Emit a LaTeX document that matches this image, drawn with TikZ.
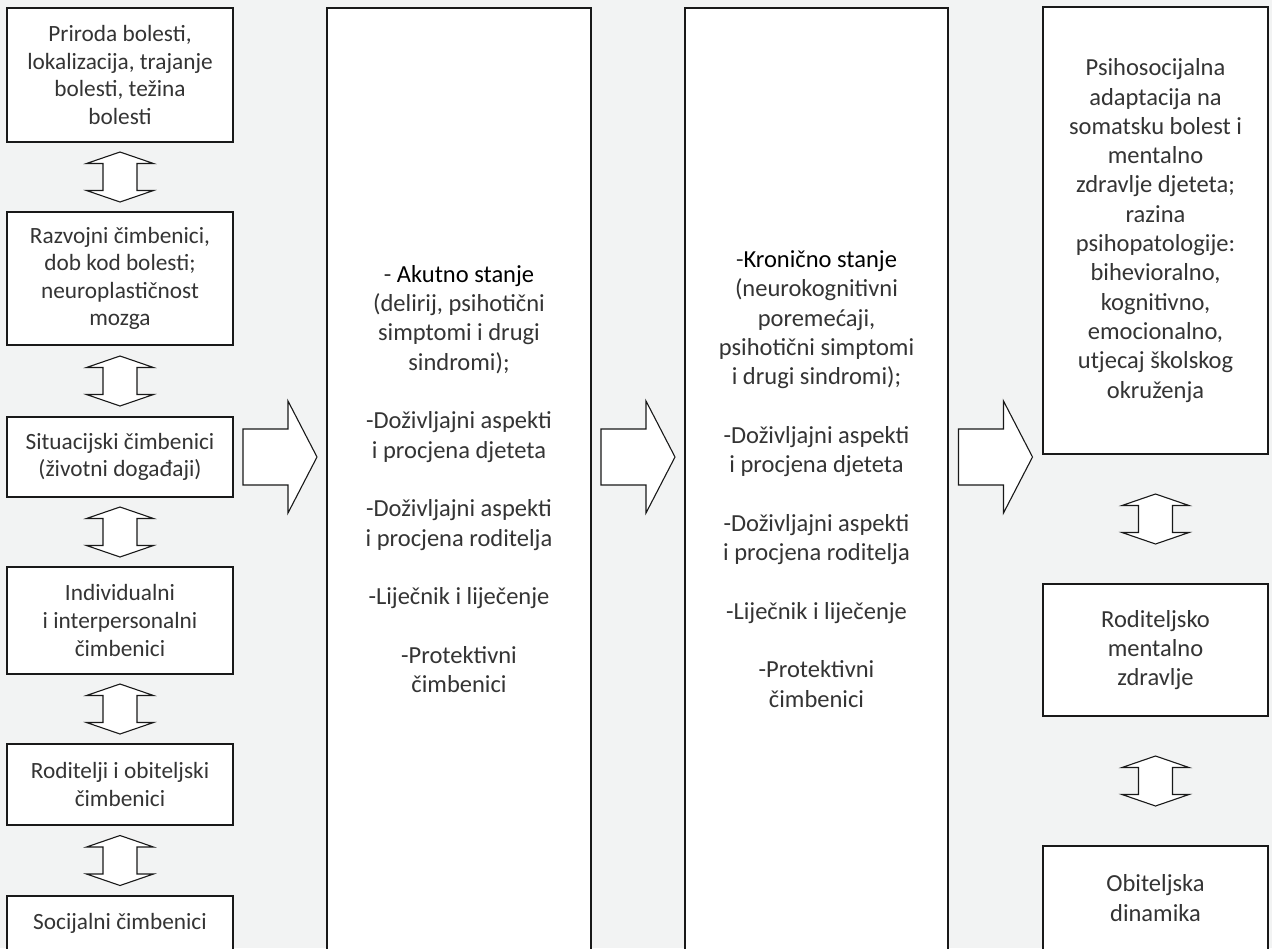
\documentclass[tikz,border=0pt]{standalone}
\usepackage{fontspec}
\setmainfont{Carlito}
\usetikzlibrary{calc}
\definecolor{bgc}{RGB}{242,243,243}
\definecolor{txt}{RGB}{52,52,52}
\definecolor{edge}{RGB}{25,25,25}
\newcommand\vdbl[2]{%
  \path ($(#1.south)!0.5!(#2.north)$) coordinate (dm);
  \draw[blockarrow, shift={(dm)}] (0,-25) -- (33.5,-13.5) -- (17,-13.5) -- (17,13.5) -- (33.5,13.5) -- (0,25) -- (-33.5,13.5) -- (-17,13.5) -- (-17,-13.5) -- (-33.5,-13.5) -- cycle;}
\newcommand\rblk[2]{%
  \path ($(#1.east |- l3.east)!0.5!(#2.west |- l3.east)$) coordinate (rm);
  \draw[blockarrow, shift={(rm)}] (-37,-28) -- (8,-28) -- (8,-56) -- (37,0) -- (8,56) -- (8,28) -- (-37,28) -- cycle;}
\begin{document}
\begin{tikzpicture}[x=1pt,y=-1pt,
  box/.style={draw=edge, line width=1.1pt, fill=white, inner sep=0pt, align=center, text=txt},
  lbox/.style={box, minimum width=226pt, font=\fontsize{23.3}{27.6}\selectfont},
  mbox/.style={box, font=\fontsize{24.5}{29.3}\selectfont},
  blockarrow/.style={draw=edge, line width=1.1pt, fill=white, line join=miter},
  head/.style={color=black}
]
\useasboundingbox (0,0) rectangle (1272,948);
\fill[bgc] (0,0) rectangle (1272,948);
\clip (0,0) rectangle (1272,948);

% left column
\node[lbox, minimum height=134pt] (l1) at (120,75) {Priroda bolesti,\\lokalizacija, trajanje\\bolesti, težina\\bolesti};
\node[lbox, minimum height=133pt] (l2) at (120,278.5) {Razvojni čimbenici,\\dob kod bolesti;\\neuroplastičnost\\mozga};
\node[lbox, minimum height=80pt] (l3) at (120,457) {Situacijski čimbenici\\(životni događaji)};
\node[lbox, minimum height=107pt] (l4) at (120,620.5) {Individualni\\i interpersonalni\\čimbenici};
\node[lbox, minimum height=81pt] (l5) at (120,784.5) {Roditelji i obiteljski\\čimbenici};
\node[lbox, minimum height=54pt] (l6) at (120,923) {Socijalni čimbenici};

% middle columns
\node[mbox, minimum width=264pt, minimum height=942pt] (m1) at (459,479) {- {\color{black}Akutno stanje}\\(delirij, psihotični\\simptomi i drugi\\sindromi);\\[29.3pt]-Doživljajni aspekti\\i procjena djeteta\\[29.3pt]-Doživljajni aspekti\\i procjena roditelja\\[29.3pt]-Liječnik i liječenje\\[29.3pt]-Protektivni\\čimbenici};
\node[mbox, minimum width=263pt, minimum height=942pt] (m2) at (816.5,479) {-{\color{black}Kronično stanje}\\(neurokognitivni\\poremećaji,\\psihotični simptomi\\i drugi sindromi);\\[29.3pt]-Doživljajni aspekti\\i procjena djeteta\\[29.3pt]-Doživljajni aspekti\\i procjena roditelja\\[29.3pt]-Liječnik i liječenje\\[29.3pt]-Protektivni\\čimbenici};

% right column
\node[mbox, minimum width=225pt, minimum height=447pt] (r1) at (1155.5,230.5) {Psihosocijalna\\adaptacija na\\somatsku bolest i\\mentalno\\zdravlje djeteta;\\razina\\psihopatologije:\\bihevioralno,\\kognitivno,\\emocionalno,\\utjecaj školskog\\okruženja};
\node[mbox, minimum width=225pt, minimum height=132pt] (r2) at (1155.5,650) {Roditeljsko\\mentalno\\zdravlje};
\node[mbox, minimum width=225pt, minimum height=104pt] (r3) at (1155.5,898) {Obiteljska\\dinamika};

% double arrows
\vdbl{l1}{l2}
\vdbl{l2}{l3}
\vdbl{l3}{l4}
\vdbl{l4}{l5}
\vdbl{l5}{l6}
\vdbl{r1}{r2}
\vdbl{r2}{r3}

% block arrows
\rblk{l3}{m1}
\rblk{m1}{m2}
\rblk{m2}{r1}
\end{tikzpicture}
\end{document}
